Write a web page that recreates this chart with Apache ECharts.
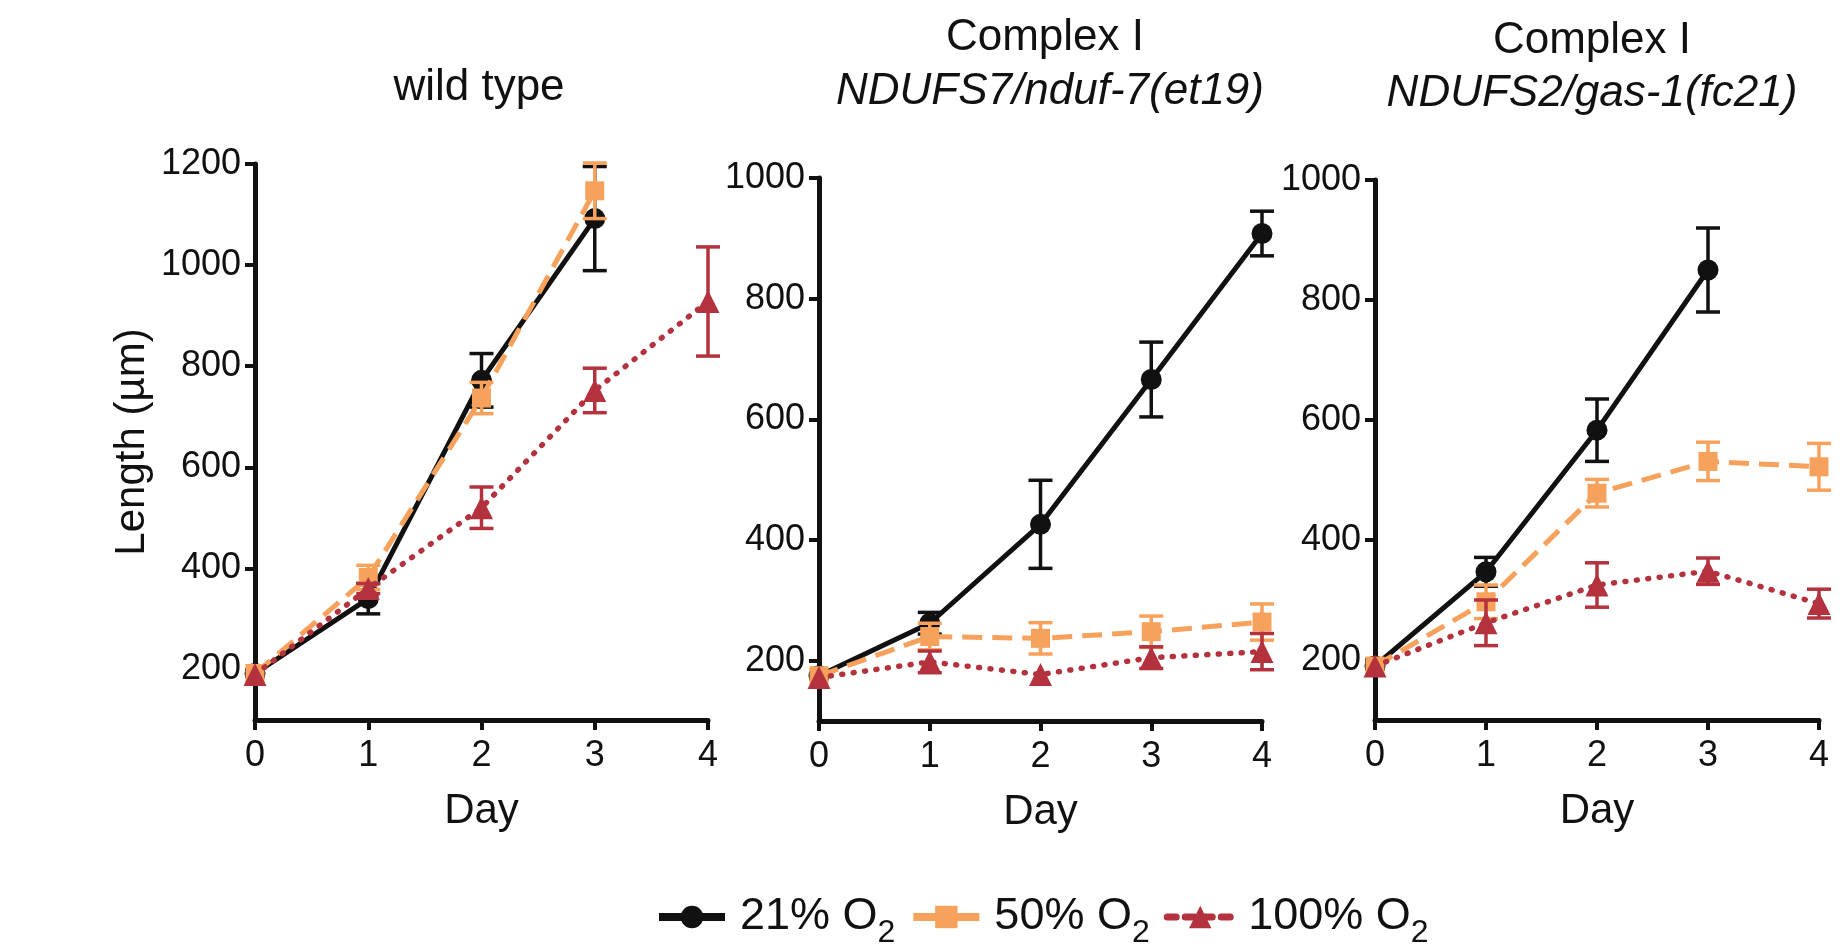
<!DOCTYPE html>
<html>
<head>
<meta charset="utf-8">
<style>
  html, body { margin: 0; padding: 0; background: #fff; }
  #main { width: 1846px; height: 948px; }
</style>
<script src="https://cdn.jsdelivr.net/npm/echarts@6/dist/echarts.min.js"></script>
</head>
<body>
<div id="main"></div>
<script>
// days on the x axis
var days = [0, 1, 2, 3, 4];
var yTicksWT = [200, 400, 600, 800, 1000, 1200];
var yTicksC1 = [200, 400, 600, 800, 1000];
var seriesNames = ['21% O2', '50% O2', '100% O2'];

// wild type (mean, +/- error)
var wt21 = [192, 340, 772, 1092, null];
var wt21Err = [0, 30, 53, 103, null];
var wt50 = [192, 382, 737, 1147, null];
var wt50Err = [0, 24, 31, 55, null];
var wt100 = [190, 360, 520, 752, 928];
var wt100Err = [0, 10, 41, 44, 108];

// NDUFS7/nduf-7(et19)
var n7_21 = [175, 262, 426, 666, 908];
var n7_21Err = [0, 18, 73, 62, 37];
var n7_50 = [175, 240, 237, 248, 264];
var n7_50Err = [0, 22, 26, 26, 30];
var n7_100 = [172, 198, 177, 205, 215];
var n7_100Err = [0, 18, 0, 18, 30];

// NDUFS2/gas-1(fc21)
var g1_21 = [190, 347, 583, 850, null];
var g1_21Err = [0, 24, 52, 70, null];
var g1_50 = [190, 297, 478, 531, 522];
var g1_50Err = [0, 28, 23, 32, 39];
var g1_100 = [190, 262, 325, 348, 294];
var g1_100Err = [0, 38, 37, 22, 24];

var FONT = 'Liberation Sans';
var colors = ['#111111', '#F7A25C', '#B3323D'];
var symbols = ['circle', 'rect', 'triangle'];
var symbolSizes = [21, 19, 23];
var lineStyles = [
  { width: 5, type: 'solid' },
  { width: 5, type: [20, 10] },
  { width: 5.5, type: [1, 10.5], cap: 'round' }
];
// legend icons: solid, solid, short dashes
var legendLines = [
  { width: 8, type: 'solid' },
  { width: 8, type: 'solid' },
  { width: 7, type: [9, 9], cap: 'round' }
];

var panels = [
  { data: [wt21, wt50, wt100], err: [wt21Err, wt50Err, wt100Err], ticks: yTicksWT, max: 1200 },
  { data: [n7_21, n7_50, n7_100], err: [n7_21Err, n7_50Err, n7_100Err], ticks: yTicksC1, max: 1000 },
  { data: [g1_21, g1_50, g1_100], err: [g1_21Err, g1_50Err, g1_100Err], ticks: yTicksC1, max: 1000 }
];

var grids = [
  { left: 255, top: 164, width: 453, height: 556 },
  { left: 819, top: 178, width: 443, height: 543 },
  { left: 1375, top: 180, width: 444, height: 540 }
];

function errRender(color) {
  return function (params, api) {
    var x = api.value(0);
    var lo = api.coord([x, api.value(1)]);
    var hi = api.coord([x, api.value(2)]);
    var hw = 12;
    var st = { stroke: color, lineWidth: 3.5, fill: null };
    return {
      type: 'group',
      children: [
        { type: 'line', shape: { x1: lo[0], y1: lo[1], x2: hi[0], y2: hi[1] }, style: st },
        { type: 'line', shape: { x1: lo[0] - hw, y1: lo[1], x2: lo[0] + hw, y2: lo[1] }, style: st },
        { type: 'line', shape: { x1: hi[0] - hw, y1: hi[1], x2: hi[0] + hw, y2: hi[1] }, style: st }
      ]
    };
  };
}

var xAxes = [], yAxes = [], series = [];
panels.forEach(function (p, i) {
  xAxes.push({
    gridIndex: i, type: 'value', min: 0, max: 4, interval: 1,
    name: 'Day', nameLocation: 'middle', nameGap: 70,
    nameTextStyle: { fontFamily: FONT, fontSize: 42, color: '#111' },
    axisLine: { lineStyle: { color: '#111', width: 5 } },
    axisTick: { length: 10, lineStyle: { color: '#111', width: 4 } },
    axisLabel: { fontFamily: FONT, fontSize: 36, color: '#111', margin: 18 },
    splitLine: { show: false }
  });
  yAxes.push({
    gridIndex: i, type: 'value', min: 100, max: p.max,
    name: i === 0 ? 'Length (\u00b5m)' : '', nameLocation: 'middle', nameGap: 102,
    nameTextStyle: { fontFamily: FONT, fontSize: 42, color: '#111' },
    axisLine: { show: true, lineStyle: { color: '#111', width: 5 } },
    axisTick: { show: true, length: 10, customValues: p.ticks, lineStyle: { color: '#111', width: 4 } },
    axisLabel: {
      fontFamily: FONT, fontSize: 36, color: '#111', margin: 14, customValues: p.ticks,
      formatter: function (v) { return String(v); }
    },
    splitLine: { show: false }
  });
  p.data.forEach(function (vals, k) {
    var errs = p.err[k];
    var errData = [];
    days.forEach(function (d, j) {
      if (vals[j] != null && errs[j]) errData.push([d, vals[j] - errs[j], vals[j] + errs[j]]);
    });
    series.push({
      name: seriesNames[k] + ' err', type: 'custom', xAxisIndex: i, yAxisIndex: i,
      renderItem: errRender(colors[k]), data: errData, z: 2 + k, silent: true, clip: false
    });
    series.push({
      name: seriesNames[k], type: 'line', xAxisIndex: i, yAxisIndex: i,
      data: days.map(function (d, j) { return [d, vals[j]]; }).filter(function (v) { return v[1] != null; }),
      symbol: symbols[k], symbolSize: symbolSizes[k], showAllSymbol: true,
      itemStyle: { color: colors[k] },
      lineStyle: Object.assign({ color: colors[k] }, lineStyles[k]),
      z: 2 + k, clip: false, animation: false
    });
  });
});

var titleBase = { fontFamily: FONT, fontSize: 44, fontWeight: 'normal', color: '#111' };
var titles = [
  { text: 'wild type', left: 479, top: 66, textAlign: 'center', padding: 0, textStyle: titleBase },
  { text: 'Complex I', left: 1045, top: 16, textAlign: 'center', padding: 0, textStyle: titleBase },
  { text: 'NDUFS7/nduf-7(et19)', left: 1050, top: 70, textAlign: 'center', padding: 0,
    textStyle: Object.assign({}, titleBase, { fontStyle: 'italic' }) },
  { text: 'Complex I', left: 1592, top: 19, textAlign: 'center', padding: 0, textStyle: titleBase },
  { text: 'NDUFS2/gas-1(fc21)', left: 1592, top: 72, textAlign: 'center', padding: 0,
    textStyle: Object.assign({}, titleBase, { fontStyle: 'italic' }) }
];

var myChart = echarts.init(document.getElementById('main'));
var option = {
  backgroundColor: '#fff',
  animation: false,
  title: titles,
  grid: grids,
  xAxis: xAxes,
  yAxis: yAxes,
  legend: {
    data: seriesNames.map(function (n, k) {
      return { name: n, lineStyle: Object.assign({ color: colors[k] }, legendLines[k]) };
    }),
    left: 650, top: 880,
    itemWidth: 66, itemHeight: 28, itemGap: 14,
    formatter: function (name) {
      return '{t|' + name.replace(' O2', ' O') + '}{s|2}';
    },
    textStyle: {
      color: '#111',
      rich: {
        t: { fontFamily: FONT, fontSize: 45, lineHeight: 50, color: '#111', padding: [0, 0, 0, 10] },
        s: { fontFamily: FONT, fontSize: 32, lineHeight: 32, padding: [32, 0, 0, 0], color: '#111' }
      }
    }
  },
  series: series
};
myChart.setOption(option);
</script>
</body>
</html>
